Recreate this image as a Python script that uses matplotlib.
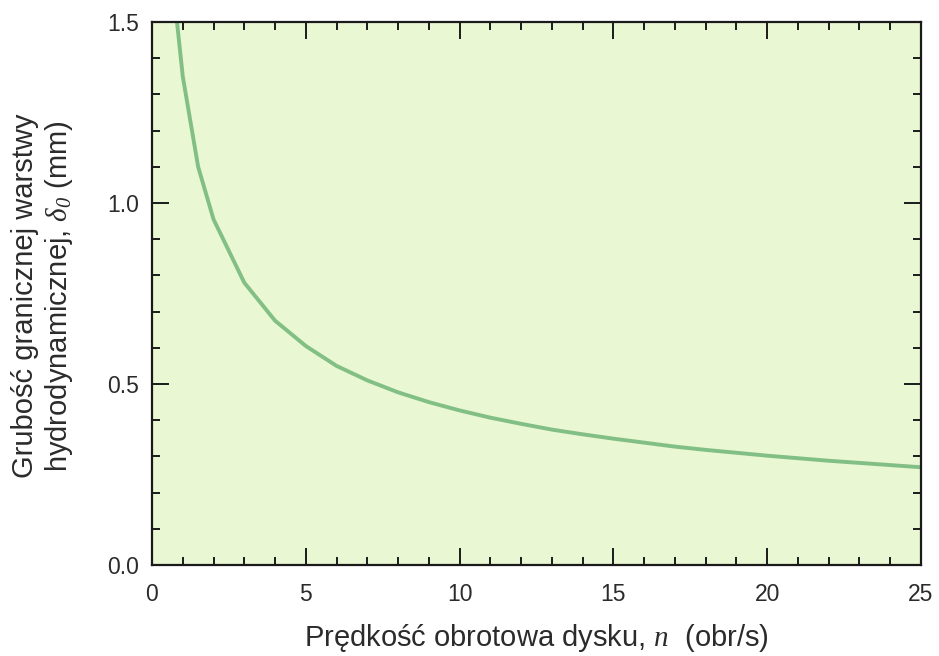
import matplotlib
matplotlib.use("Agg")
import matplotlib.pyplot as plt
from matplotlib.ticker import MultipleLocator

# Rotation speed of the disc (rev/s) and hydrodynamic boundary layer thickness (mm)
speed_n = [0.8, 1, 1.5, 2, 3, 4, 5, 6, 7, 8, 9, 10, 11, 12, 13, 14, 15,
           16, 17, 18, 19, 20, 21, 22, 23, 24, 25]
thickness_mm = [1.51, 1.35, 1.10, 0.955, 0.78, 0.675, 0.605, 0.55, 0.51, 0.477,
                0.45, 0.427, 0.407, 0.39, 0.374, 0.361, 0.349, 0.338, 0.327,
                0.318, 0.31, 0.302, 0.295, 0.288, 0.282, 0.276, 0.27]

x_ticks = [0, 5, 10, 15, 20, 25]
y_ticks = [0.0, 0.5, 1.0, 1.5]
y_tick_labels = ["0.0", "0.5", "1.0", "1.5"]

plt.rcParams["font.family"] = ["Liberation Sans", "DejaVu Sans"]
plt.rcParams["mathtext.fontset"] = "custom"
plt.rcParams["mathtext.it"] = "Liberation Serif:italic"
plt.rcParams["mathtext.rm"] = "Liberation Serif:italic"

text_color = "#2b2b2b"

fig = plt.figure(figsize=(9.39, 6.56), dpi=100)
ax = fig.add_axes([152 / 939, 1 - 565 / 656, (921 - 152) / 939, (565 - 22) / 656])
ax.set_facecolor("#e9f7d3")

ax.plot(speed_n, thickness_mm, color="#82bf84", linewidth=2.8,
        solid_joinstyle="miter", clip_on=True)

ax.set_xlim(0, 25)
ax.set_ylim(0, 1.5)
ax.set_xticks(x_ticks)
ax.set_yticks(y_ticks)
ax.set_yticklabels(y_tick_labels)
ax.xaxis.set_minor_locator(MultipleLocator(1))
ax.yaxis.set_minor_locator(MultipleLocator(0.1))

ax.tick_params(which="both", direction="in", top=True, right=True,
               colors="#1a1a1a", labelcolor=text_color, labelsize=16.5, width=1.4)
ax.tick_params(which="major", length=12)
ax.tick_params(which="minor", length=6)
ax.tick_params(axis="x", which="major", pad=13)
ax.tick_params(axis="y", which="major", pad=9)
for s in ax.spines.values():
    s.set_linewidth(1.6)
    s.set_color("#1a1a1a")

fig.text(536 / 939, 1 - 638 / 656, r"Prędkość obrotowa dysku, $n$  (obr/s)",
         fontsize=21, color=text_color, ha="center", va="center")
fig.text(43 / 939, 1 - 296 / 656,
         "Grubość granicznej warstwy\n"
         r"hydrodynamicznej, $\delta_0$ (mm)",
         fontsize=21, color=text_color, ha="center", va="center",
         rotation=90, linespacing=1.2, multialignment="center")

fig.savefig("out.png", dpi=100)
